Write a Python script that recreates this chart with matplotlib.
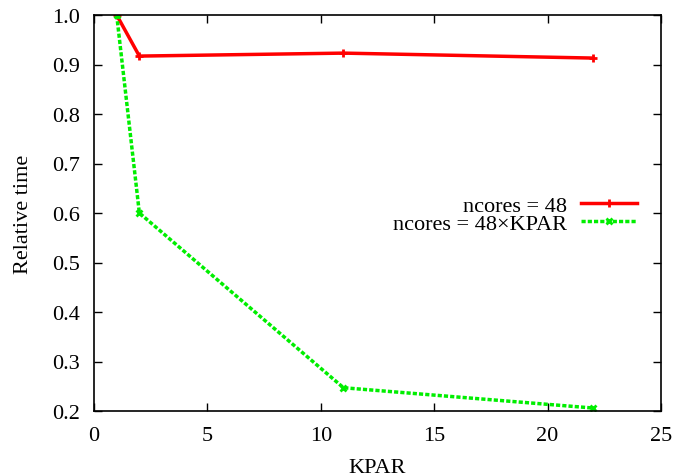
import matplotlib
matplotlib.use('Agg')
import matplotlib.pyplot as plt

kpar = [1, 2, 11, 22]
time_fixed = [1.0, 0.917, 0.923, 0.913]
time_scaled = [1.0, 0.600, 0.247, 0.206]
xticks = [0, 5, 10, 15, 20, 25]
yticks = [0.2, 0.3, 0.4, 0.5, 0.6, 0.7, 0.8, 0.9, 1.0]

plt.rcParams['font.family'] = ['Liberation Serif', 'DejaVu Serif']
plt.rcParams['font.size'] = 16

fig = plt.figure(figsize=(6.78, 4.77), dpi=100)
ax = fig.add_axes([94 / 678, 1 - 412 / 477, (661 - 94) / 678, (412 - 16) / 477])

ax.plot(kpar, time_fixed, color='#ff0000', lw=2.5, marker='+', ms=6, mew=2,
        label='ncores = 48')
ax.plot(kpar, time_scaled, color='#00ee00', lw=2.5, ls=(0, (1.2, 0.6)), marker='x',
        ms=5, mew=2, label='ncores = 48\u00d7KPAR')

ax.set_xlim(0, 25)
ax.set_ylim(0.2, 1.0)
ax.set_xticks(xticks)
ax.set_yticks(yticks)
ax.set_yticklabels(['%.1f' % v for v in yticks])
ax.tick_params(direction='in', top=True, right=True, length=6, width=1)
ax.tick_params(axis='y', pad=10)
ax.tick_params(axis='x', pad=11)
for s in ax.spines.values():
    s.set_linewidth(1.2)

ax.set_xlabel('KPAR', labelpad=9)
ax.set_ylabel('Relative time', labelpad=14)

ax.legend(loc='upper right', bbox_to_anchor=(0.958, 0.545), frameon=False,
          markerfirst=False, handlelength=2.55, handletextpad=0.6,
          labelspacing=-0.1, borderpad=0, borderaxespad=0, fontsize=16)

fig.savefig('out.png', dpi=100)
